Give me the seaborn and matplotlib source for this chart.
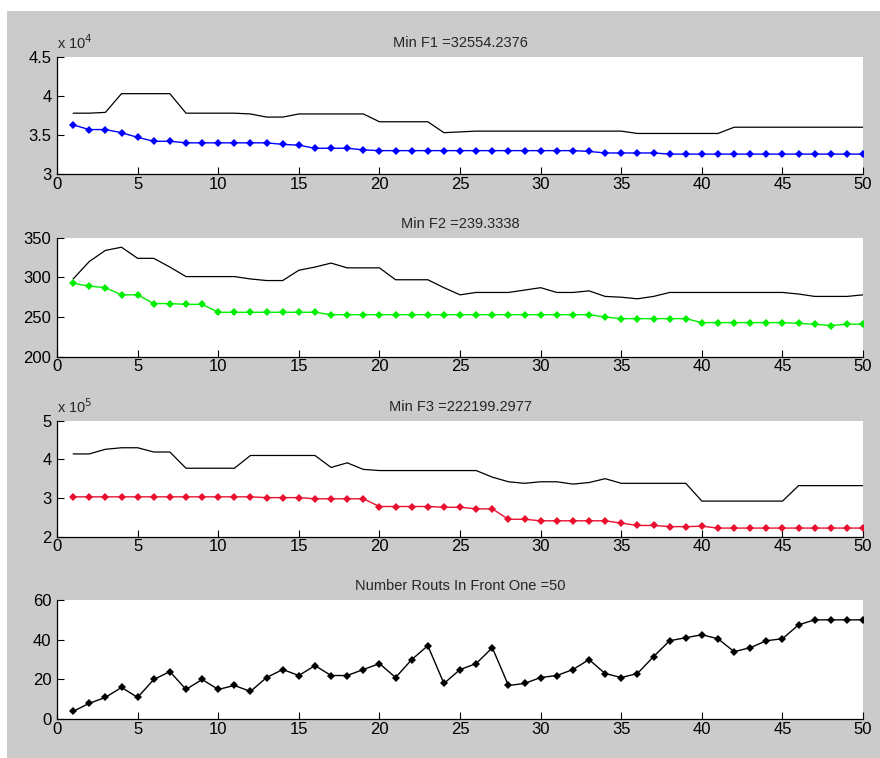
import numpy as np
import matplotlib
matplotlib.use("Agg")
import matplotlib.pyplot as plt
import matplotlib.ticker as mticker
import seaborn as sns

# generations
gen = np.arange(1, 51)

# F1 (x 1e4): best and worst of the front
f1_min = [3.63, 3.57, 3.57, 3.53, 3.47, 3.42, 3.42, 3.40, 3.40, 3.40,
          3.40, 3.40, 3.40, 3.38, 3.37, 3.33, 3.33, 3.33, 3.31, 3.30,
          3.30, 3.30, 3.30, 3.30, 3.30, 3.30, 3.30, 3.30, 3.30, 3.30,
          3.30, 3.30, 3.29, 3.27, 3.27, 3.27, 3.27, 3.2554, 3.2554, 3.2554,
          3.2554, 3.2554, 3.2554, 3.2554, 3.2554, 3.2554, 3.2554, 3.2554, 3.2554, 3.2554]
f1_max = [3.78, 3.78, 3.79, 4.03, 4.03, 4.03, 4.03, 3.78, 3.78, 3.78,
          3.78, 3.77, 3.73, 3.73, 3.77, 3.77, 3.77, 3.77, 3.77, 3.67,
          3.67, 3.67, 3.67, 3.53, 3.54, 3.55, 3.55, 3.55, 3.55, 3.55,
          3.55, 3.55, 3.55, 3.55, 3.55, 3.52, 3.52, 3.52, 3.52, 3.52,
          3.52, 3.60, 3.60, 3.60, 3.60, 3.60, 3.60, 3.60, 3.60, 3.60]

# F2
f2_min = [292.5, 289, 287, 278, 278, 267, 267, 266, 266, 256,
          256, 256, 256, 256, 256, 256, 253, 253, 253, 253,
          253, 253, 253, 253, 253, 253, 253, 253, 253, 253,
          253, 253, 253, 250, 248, 248, 248, 248, 248, 243,
          243, 243, 243, 243, 243, 242, 241, 239.3, 241, 241]
f2_max = [298, 320, 334, 338, 324, 324, 313, 301, 301, 301,
          301, 298, 296, 296, 309, 313, 318, 312, 312, 312,
          297, 297, 297, 287, 278, 281, 281, 281, 284, 287,
          281, 281, 283, 276, 275, 273, 276, 281, 281, 281,
          281, 281, 281, 281, 281, 279, 276, 276, 276, 278]

# F3 (x 1e5)
f3_min = [3.03, 3.03, 3.03, 3.03, 3.03, 3.03, 3.03, 3.03, 3.03, 3.03,
          3.03, 3.03, 3.01, 3.01, 3.01, 2.98, 2.98, 2.98, 2.98, 2.78,
          2.78, 2.78, 2.78, 2.76, 2.76, 2.72, 2.72, 2.45, 2.45, 2.41,
          2.41, 2.41, 2.41, 2.41, 2.35, 2.29, 2.29, 2.26, 2.26, 2.27,
          2.222, 2.222, 2.222, 2.222, 2.222, 2.222, 2.222, 2.222, 2.222, 2.222]
f3_max = [4.14, 4.14, 4.26, 4.30, 4.30, 4.19, 4.19, 3.77, 3.77, 3.77,
          3.77, 4.10, 4.10, 4.10, 4.10, 4.10, 3.79, 3.91, 3.74, 3.71,
          3.71, 3.71, 3.71, 3.71, 3.71, 3.71, 3.54, 3.42, 3.38, 3.42,
          3.42, 3.36, 3.40, 3.50, 3.38, 3.38, 3.38, 3.38, 3.38, 2.92,
          2.92, 2.92, 2.92, 2.92, 2.92, 3.32, 3.32, 3.32, 3.32, 3.32]

# routes in front one
n_routes = [4, 8, 11, 16, 11, 20, 24, 15, 20, 15,
            17, 14, 21, 25, 22, 27, 22, 22, 25, 28,
            21, 30, 37, 18, 25, 28, 36, 17, 18, 21,
            22, 25, 30, 23, 21, 23, 31.5, 39.5, 41, 42.5,
            40.5, 34, 36, 39.5, 40.5, 47.5, 50, 50, 50, 50]

titles = ["Min F1 =32554.2376", "Min F2 =239.3338",
          "Min F3 =222199.2977", "Number Routs In Front One =50"]
exps = [4, None, 5, None]
ylims = [(3, 4.5), (200, 350), (2, 5), (0, 60)]
yticks = [[3, 3.5, 4, 4.5], [200, 250, 300, 350], [2, 3, 4, 5], [0, 20, 40, 60]]
colors = ["#0000ff", "#00ee00", "#e8102e", "black"]

sns.set_style("ticks")
plt.rcParams["font.family"] = ["Liberation Sans", "DejaVu Sans"]
plt.rcParams["xtick.direction"] = "in"
plt.rcParams["ytick.direction"] = "in"

fig = plt.figure(figsize=(8.8, 7.58), dpi=100, facecolor="white")
fig.patches.append(plt.Rectangle((7 / 880, 0), 1, 1 - 11 / 758, transform=fig.transFigure,
                                 facecolor="#cbcbcb", edgecolor="none", zorder=-10))

rects = [[0.0648, 0.7704, 0.916, 0.1544],
         [0.0648, 0.5294, 0.916, 0.1570],
         [0.0648, 0.2920, 0.916, 0.1530],
         [0.0648, 0.0511, 0.916, 0.1574]]

series = [(f1_min, f1_max), (f2_min, f2_max), (f3_min, f3_max), (n_routes, None)]

for i, (rect, (best, worst)) in enumerate(zip(rects, series)):
    ax = fig.add_axes(rect)
    ax.set_facecolor("white")
    if worst is not None:
        sns.lineplot(x=gen, y=worst, ax=ax, color="black", linewidth=0.9,
                     estimator=None, sort=False)
    sns.lineplot(x=gen, y=best, ax=ax, color=colors[i], linewidth=1.0,
                 marker="D", markersize=3.6, markeredgewidth=0,
                 estimator=None, sort=False)
    ax.set_xlim(0, 50)
    ax.set_ylim(*ylims[i])
    ax.set_xticks(np.arange(0, 51, 5))
    ax.set_yticks(yticks[i])
    ax.yaxis.set_major_formatter(mticker.FormatStrFormatter("%g"))
    ax.tick_params(length=5, width=0.8, labelsize=12, pad=2, colors="black")
    ax.tick_params(axis="y", pad=4)
    for s in ["top", "right"]:
        ax.spines[s].set_visible(False)
    for s in ["left", "bottom"]:
        ax.spines[s].set_linewidth(0.9)
        ax.spines[s].set_color("black")
    ax.set_xlabel("")
    ax.set_ylabel("")
    ax.set_title(titles[i], fontsize=10.5, pad=7)
    if exps[i] is not None:
        ax.text(0, 1.04, r"x 10$^{%d}$" % exps[i], transform=ax.transAxes,
                ha="left", va="bottom", fontsize=10.5)

fig.savefig("out.png", dpi=100, facecolor=fig.get_facecolor())
